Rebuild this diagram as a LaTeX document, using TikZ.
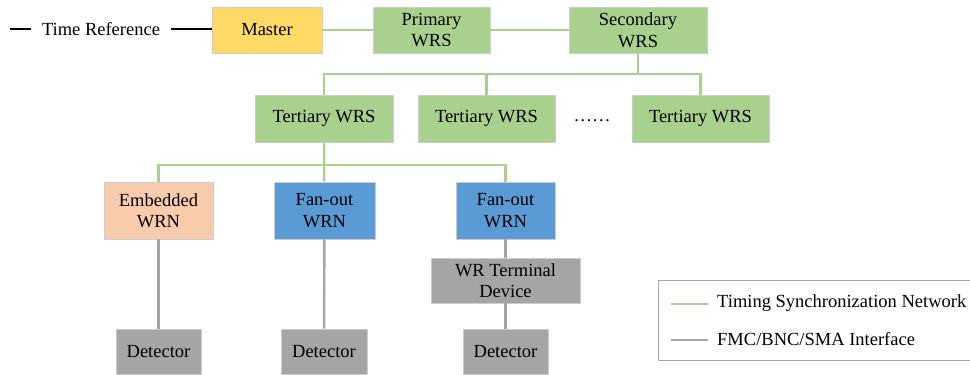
\documentclass[tikz,border=0pt]{standalone}
\usepackage{fontspec}
\setmainfont{Liberation Serif}
\usepackage{xcolor}
\usepackage{tikz}
\definecolor{masteryellow}{HTML}{FFD966}
\definecolor{wrsgreen}{HTML}{A9D18E}
\definecolor{wrnsalmon}{HTML}{F8CBAD}
\definecolor{wrnblue}{HTML}{5B9BD5}
\definecolor{devgray}{HTML}{A5A5A5}
\definecolor{syncline}{HTML}{A9D18E}
\definecolor{ifaceline}{HTML}{A5A5A5}

\begin{document}
\begin{tikzpicture}[x=1pt,y=-1pt,
  box/.style={rectangle,draw=black!20,line width=0.7pt,inner sep=0pt,
    minimum height=46pt,align=center,font=\fontsize{18.5}{21.5}\selectfont},
  txt/.style={inner sep=0pt,font=\fontsize{18.5}{21.5}\selectfont},
  sync/.style={draw=syncline,line width=2.2pt},
  iface/.style={draw=ifaceline,line width=2.4pt},
  tref/.style={draw=black,line width=2.4pt}]

  \clip (0,0) rectangle (970,375);

  % top row
  \coordinate (trefL) at (10,29);
  \node[txt,inner xsep=11pt] (timeref) at (101,29) {Time Reference};
  \node[box,fill=masteryellow,minimum width=110pt] (master) at (267,30) {Master};
  \node[box,fill=wrsgreen,minimum width=117pt] (primary) at (431.5,30) {Primary\\WRS};
  \node[box,fill=wrsgreen,minimum width=138pt] (secondary) at (638,30) {Secondary\\WRS};

  % tertiary switches
  \node[box,fill=wrsgreen,minimum width=138pt,minimum height=47pt] (tert1) at (324,118.5) {Tertiary WRS};
  \node[box,fill=wrsgreen,minimum width=137pt,minimum height=47pt] (tert2) at (486.5,118.5) {Tertiary WRS};
  \node[txt] (dots) at (592,121) {……};
  \node[box,fill=wrsgreen,minimum width=137pt,minimum height=47pt] (tert3) at (700.5,118.5) {Tertiary WRS};

  % nodes
  \node[box,fill=wrnsalmon,minimum width=109pt,minimum height=57pt] (embedded) at (158.5,210.5) {Embedded\\WRN};
  \node[box,fill=wrnblue,minimum width=101pt,minimum height=57pt] (fanout1) at (324.5,210.5) {Fan-out\\WRN};
  \node[box,fill=wrnblue,minimum width=99pt,minimum height=57pt] (fanout2) at (505.5,210.5) {Fan-out\\WRN};
  \node[box,fill=devgray,minimum width=149pt,minimum height=45pt] (terminal) at (505.5,280.5) {WR Terminal\\Device};

  \node[box,fill=devgray,minimum width=85pt,minimum height=45pt] (det1) at (158.5,351.5) {Detector};
  \node[box,fill=devgray,minimum width=86pt,minimum height=45pt] (det2) at (324,351.5) {Detector};
  \node[box,fill=devgray,minimum width=85pt,minimum height=45pt] (det3) at (505.5,351.5) {Detector};

  \coordinate (busA) at (638,74);
  \coordinate (busB) at (324,165);

  \draw[tref] (trefL) -- (timeref.west);
  \draw[tref] (timeref.east) -- (timeref.east -| master.west);
  \draw[sync] (master) -- (primary);
  \draw[sync] (primary) -- (secondary);
  \draw[sync] (secondary) -- (busA);
  \draw[sync] (tert1) |- (busA) -| (tert3);
  \draw[sync] (busA) -| (tert2);
  \draw[sync] (tert1) -- (fanout1);
  \draw[sync] (busB) -| (embedded);
  \draw[sync] (busB) -| (fanout2);

  \draw[iface] (embedded) -- (det1);
  \draw[iface] (fanout1) -- (det2);
  \draw[iface] (fanout2) -- (terminal);
  \draw[iface] (terminal) -- (det3);

  % legend
  \draw[draw=black!35,line width=0.8pt] (658,280) rectangle (990,360);
  \coordinate (legA1) at (671,304);
  \coordinate (legA2) at (708,304);
  \coordinate (legB1) at (671,340);
  \coordinate (legB2) at (708,340);
  \draw[sync] (legA1) -- (legA2);
  \draw[iface] (legB1) -- (legB2);
  \node[txt,anchor=west] (legsync) at (717,303) {Timing Synchronization Network};
  \node[txt,anchor=west] (legiface) at (717,339) {FMC/BNC/SMA Interface};
\end{tikzpicture}
\end{document}
